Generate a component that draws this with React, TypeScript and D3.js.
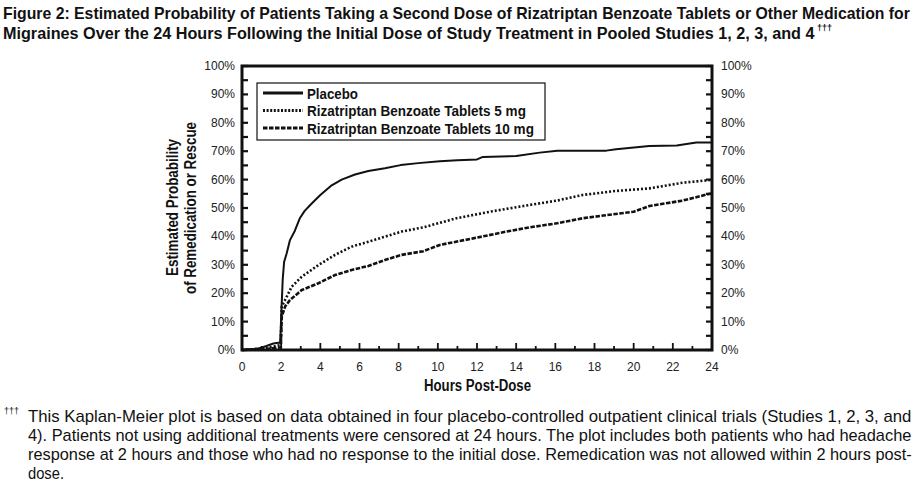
import React, { useLayoutEffect, useRef, useState } from "react";
import * as d3 from "d3";

const titleLines = [
  "Figure 2: Estimated Probability of Patients Taking a Second Dose of Rizatriptan Benzoate Tablets or Other Medication for",
  "Migraines Over the 24 Hours Following the Initial Dose of Study Treatment in Pooled Studies 1, 2, 3, and 4",
];
const footnoteLines = [
  "This Kaplan-Meier plot is based on data obtained in four placebo-controlled outpatient clinical trials (Studies 1, 2, 3, and",
  "4). Patients not using additional treatments were censored at 24 hours. The plot includes both patients who had headache",
  "response at 2 hours and those who had no response to the initial dose. Remedication was not allowed within 2 hours post-",
  "dose.",
];
const seriesNames = ["Placebo", "Rizatriptan Benzoate Tablets 5 mg", "Rizatriptan Benzoate Tablets 10 mg"];

const placeboHours = [0, 0.9, 1.25, 1.6, 1.95, 2.02, 2.08, 2.15, 2.28, 2.45, 2.7, 2.96, 3.2, 3.56, 4.0, 4.58, 5.09, 5.77, 6.45, 7.3, 8.1, 9.0, 10.1, 11.0, 12.0, 12.3, 14.0, 15.2, 16.1, 17.0, 18.6, 19.1, 20.8, 22.2, 23.2, 24];
const placeboValues = [0, 0.6, 1.4, 2.3, 2.6, 15, 25, 31, 34, 38.7, 42, 46.5, 49, 51.6, 54.6, 58, 60, 61.8, 63, 64, 65.1, 65.8, 66.5, 66.8, 67.1, 68, 68.3, 69.5, 70.2, 70.2, 70.2, 70.7, 71.8, 72, 73.1, 73.1];

const dose5Hours = [0, 1.2, 1.6, 1.98, 2.03, 2.2, 2.54, 3.05, 3.9, 4.75, 5.6, 6.45, 7.3, 8.15, 9.26, 10.96, 12.67, 14.37, 16.07, 17.4, 19.1, 20.8, 22.5, 24];
const dose5Values = [0, 0.5, 1.2, 1.8, 15.3, 17.6, 22.3, 25.8, 29.9, 33.5, 36.4, 38.1, 39.9, 41.7, 43.2, 46.4, 48.7, 50.7, 52.6, 54.6, 56, 56.9, 58.9, 59.9];

const dose10Hours = [0, 1.3, 1.98, 2.03, 2.2, 2.45, 3.05, 3.9, 4.75, 5.6, 6.45, 7.3, 8.15, 9.26, 10.1, 11.8, 13.5, 14.7, 16.07, 17.4, 20.0, 20.8, 22.5, 24];
const dose10Values = [0, 0.4, 0.9, 11.7, 15.3, 17.6, 21.1, 23.5, 26.4, 28.2, 29.6, 31.7, 33.5, 34.8, 37, 39.3, 41.7, 43.2, 44.6, 46.4, 48.7, 50.7, 52.6, 55.2];

const xTicks = d3.range(0, 25, 2);
const yTicks = d3.range(0, 101, 10);

const FONT = "'Liberation Sans', Arial, sans-serif";

function FitText(props: {
  x: number; y: number; width: number; size: number; bold?: boolean; children: string;
}) {
  const ref = useRef<SVGTextElement>(null);
  const [k, setK] = useState(0.8);
  useLayoutEffect(() => {
    if (ref.current) {
      const w = ref.current.getComputedTextLength();
      if (w > 0) setK(props.width / w);
    }
  }, [props.width, props.children]);
  return (
    <text
      ref={ref}
      transform={`translate(${props.x},${props.y}) scale(${k},1)`}
      fontFamily={FONT}
      fontWeight={props.bold ? "bold" : "normal"}
      fontSize={props.size}
      fill="#111"
    >
      {props.children}
    </text>
  );
}

export default function App() {
  const W = 920, H = 493;
  const x = d3.scaleLinear().domain([0, 24]).range([242, 712]);
  const y = d3.scaleLinear().domain([0, 100]).range([350, 66]);

  const mk = (hs: number[], vs: number[]) =>
    d3.line<number>().x((_, i) => x(hs[i])).y((v) => y(v))(vs) || "";

  const series = [
    { d: mk(placeboHours, placeboValues), dash: undefined as string | undefined, w: 2 },
    { d: mk(dose5Hours, dose5Values), dash: "2,2", w: 2.6 },
    { d: mk(dose10Hours, dose10Values), dash: "4.5,1.5", w: 2.6 },
  ];
  const legendDash = [undefined, "2,1.6", "4.5,1.5"];
  const legendLen = [51, 219, 227];

  return (
    <svg width={W} height={H} style={{ position: "absolute", left: 0, top: 0, background: "#fff" }}>
      <rect width={W} height={H} fill="#fff" />
      {/* Title */}
      <FitText x={3} y={19} width={906} size={17} bold>{titleLines[0]}</FitText>
      <FitText x={3} y={39} width={811} size={17} bold>{titleLines[1]}</FitText>
      <text x={817} y={31} fontFamily={FONT} fontWeight="bold" fontSize={9} fill="#111">†††</text>

      {/* ticks */}
      {d3.range(0, 101, 5).map((v) => (
        <g key={"yl" + v}>
          <line x1={242} x2={248} y1={y(v)} y2={y(v)} stroke="#111" strokeWidth={2.2} />
          <line x1={706} x2={712} y1={y(v)} y2={y(v)} stroke="#111" strokeWidth={2.2} />
        </g>
      ))}
      {d3.range(0, 25, 1).map((h) => (
        <line key={"xt" + h} x1={x(h)} x2={x(h)} y1={350} y2={h % 2 === 0 ? 343 : 346} stroke="#111" strokeWidth={1.8} />
      ))}
      <rect x={242} y={66} width={470} height={284} fill="none" stroke="#111" strokeWidth={3} />

      {/* tick labels */}
      {yTicks.map((v) => (
        <g key={"yt" + v}>
          <text x={235} y={y(v) + 4} textAnchor="end" fontFamily={FONT} fontSize={12} fill="#222">{v}%</text>
          <text x={721} y={y(v) + 4} textAnchor="start" fontFamily={FONT} fontSize={12} fill="#222">{v}%</text>
        </g>
      ))}
      {xTicks.map((h) => (
        <text key={"xl" + h} x={x(h)} y={371} textAnchor="middle" fontFamily={FONT} fontSize={12} fill="#222">{h}</text>
      ))}
      <FitText x={424} y={391} width={107} size={16} bold>Hours Post-Dose</FitText>
      <g transform="translate(178,208) rotate(-90)">
        <FitText x={-68} y={0} width={137} size={16} bold>Estimated Probability</FitText>
        <FitText x={-86} y={18} width={172} size={16} bold>of Remedication or Rescue</FitText>
      </g>

      {/* Curves */}
      {series.map((s, i) => (
        <path key={"s" + i} d={s.d} fill="none" stroke="#111" strokeWidth={s.w} strokeDasharray={s.dash} strokeLinejoin="round" />
      ))}

      {/* Legend */}
      <rect x={257} y={83} width={288} height={57} fill="#fff" stroke="#111" strokeWidth={1.2} />
      {seriesNames.map((n, i) => {
        const ly = 93 + i * 17.5;
        return (
          <g key={"lg" + i}>
            <line x1={263} x2={303} y1={ly} y2={ly} stroke="#111" strokeWidth={3} strokeDasharray={legendDash[i]} />
            <FitText x={307} y={ly + 5.5} width={legendLen[i]} size={15} bold>{n}</FitText>
          </g>
        );
      })}

      {/* Footnote */}
      <text x={4} y={414} fontFamily={FONT} fontSize={9} fill="#111">†††</text>
      {footnoteLines.map((t, i) => (
        <FitText key={"fn" + i} x={28} y={422 + i * 19} width={i < 3 ? 883 : 36} size={16}>{t}</FitText>
      ))}
    </svg>
  );
}
